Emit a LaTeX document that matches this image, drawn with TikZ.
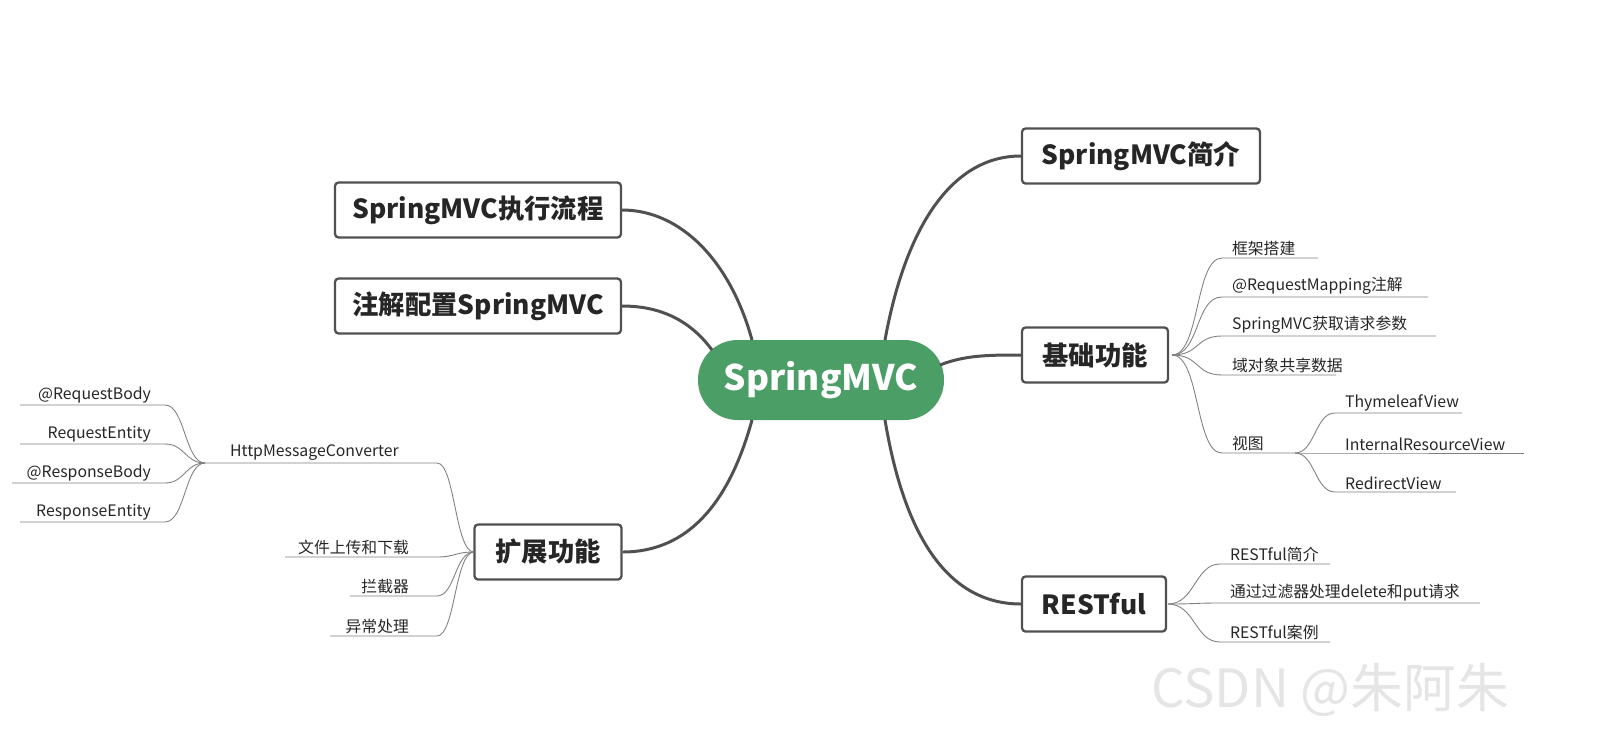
\documentclass[tikz,border=0pt]{standalone}
\usepackage{fontspec}
\setmainfont{Noto Sans CJK SC}
\usetikzlibrary{positioning, calc}
\definecolor{springgreen}{HTML}{4A9E66}
\definecolor{linegray}{HTML}{505050}
\tikzset{
  topic/.style={draw=linegray, line width=1.3pt, rounded corners=2pt, fill=white, font=\fontsize{15}{18}\selectfont\bfseries, text=black!85, inner xsep=0pt, minimum height=1.1cm},
  leaf/.style={font=\fontsize{9}{11}\selectfont, text=black!85, inner sep=1pt, anchor=south west},
  leafl/.style={leaf, anchor=south east},
  main/.style={line width=1.7pt, draw=linegray},
  thin/.style={line width=0.5pt, draw=gray},
}
\begin{document}
\begin{tikzpicture}[x=0.02cm, y=-0.02cm]
\useasboundingbox (0,0) rectangle (1610,748);
% centre
\node[fill=springgreen, rounded corners=0.79cm, minimum width=4.92cm, minimum height=1.6cm, text=white, font=\fontsize{20}{24}\selectfont\bfseries] (root) at (821,380) {SpringMVC};
% topics
\node[topic, minimum width=4.76cm] (intro) at (1141,156) {SpringMVC简介};
\node[topic, minimum width=2.92cm] (basic) at (1095,355) {基础功能};
\node[topic, minimum width=2.88cm] (rest) at (1094,604) {RESTful};
\node[topic, minimum width=5.72cm] (flow) at (478,210) {SpringMVC执行流程};
\node[topic, minimum width=5.72cm] (anno) at (478,306) {注解配置SpringMVC};
\node[topic, minimum width=2.94cm] (ext) at (548,552) {扩展功能};
% main branches
\draw[main] (885,340) .. controls (905,230) and (950,156) .. (intro.west);
\draw[main] (940,365) .. controls (965,355) and (990,355) .. (basic.west);
\draw[main] (885,420) .. controls (905,540) and (950,604) .. (rest.west);
\draw[main] (752,340) .. controls (730,260) and (680,210) .. (flow.east);
\draw[main] (712,350) .. controls (690,320) and (660,306) .. (anno.east);
\draw[main] (752,420) .. controls (730,500) and (690,552) .. (ext.east);
% basic leaves
\coordinate (bs) at (1172,355);
\foreach \y/\t/\w in {258/框架搭建/1318, 297/@RequestMapping注解/1428, 336/SpringMVC获取请求参数/1436, 375/域对象共享数据/1336, 453/视图/1295}{
  \coordinate (b\y) at (1222,\y);
  \draw[thin] (bs) .. controls (1200,355) and (1195,\y) .. (b\y) -- (\w,\y);
  \node[leaf] (bt\y) at (1230,\y) {\t};
}
\coordinate (vs) at (1295,453);
\foreach \y/\t/\w in {413/ThymeleafView/1462, 453/InternalResourceView/1524, 492/RedirectView/1456}{
  \coordinate (v\y) at (1335,\y);
  \draw[thin] (vs) .. controls (1315,453) and (1315,\y) .. (v\y) -- (\w,\y);
  \node[leaf] (vt\y) at (1343,\y) {\t};
}
% rest leaves
\coordinate (rs) at (1168,604);
\foreach \y/\t/\w in {564/RESTful简介/1330, 603/通过过滤器处理delete和put请求/1480, 642/RESTful案例/1330}{
  \coordinate (r\y) at (1220,\y);
  \draw[thin] (rs) .. controls (1195,604) and (1195,\y) .. (r\y) -- (\w,\y);
  \node[leaf] (rt\y) at (1228,\y) {\t};
}
% ext leaves
\coordinate (es) at (474,552);
\foreach \y/\t/\w in {463/HttpMessageConverter/205, 557/文件上传和下载/285, 596/拦截器/350, 636/异常处理/330}{
  \coordinate (e\y) at (437,\y);
  \draw[thin] (es) .. controls (455,552) and (455,\y) .. (e\y) -- (\w,\y);
}
\node[leaf] (etH) at (228,463) {HttpMessageConverter};
\foreach \y/\t in {557/文件上传和下载, 596/拦截器, 636/异常处理}
  \node[leafl] (et\y) at (411,\y) {\t};
\coordinate (hs) at (205,463);
\foreach \y/\t/\w in {405/@RequestBody/20, 444/RequestEntity/20, 483/@ResponseBody/12, 522/ResponseEntity/20}{
  \coordinate (h\y) at (165,\y);
  \draw[thin] (hs) .. controls (185,463) and (185,\y) .. (h\y) -- (\w,\y);
  \node[leafl] (ht\y) at (153,\y) {\t};
}
% watermark
\node[text=black!10, font=\fontsize{30}{34}\selectfont] (wm) at (1330,690) {CSDN @朱阿朱};
\end{tikzpicture}
\end{document}
